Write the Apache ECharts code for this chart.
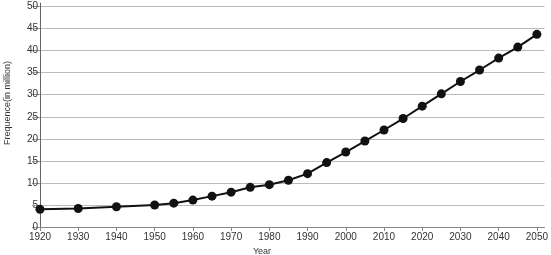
<!DOCTYPE html>
<html>
<head>
<meta charset="utf-8">
<script src="https://cdn.jsdelivr.net/npm/echarts@6/dist/echarts.min.js"></script>
<style>
  html, body { margin: 0; padding: 0; background: #fff; }
  #chart { width: 551px; height: 255px; }
</style>
</head>
<body>
<div id="chart"></div>
<script>
// years and values
var years = [1920, 1930, 1940, 1950, 1955, 1960, 1965, 1970, 1975, 1980, 1985, 1990,
             1995, 2000, 2005, 2010, 2015, 2020, 2025, 2030, 2035, 2040, 2045, 2050];
var frequence = [4.0, 4.2, 4.6, 5.0, 5.4, 6.1, 7.0, 7.9, 9.0, 9.6, 10.6, 12.1,
                 14.6, 17.0, 19.5, 22.0, 24.6, 27.4, 30.2, 33.0, 35.6, 38.3, 40.8, 43.7];
var xTicks = [1920, 1930, 1940, 1950, 1960, 1970, 1980, 1990, 2000, 2010, 2020, 2030, 2040, 2050];
var yTicks = [0, 5, 10, 15, 20, 25, 30, 35, 40, 45, 50];

var chart = echarts.init(document.getElementById("chart"));

var labelFont = {
  color: "#333",
  fontFamily: "Liberation Sans",
  fontSize: 10
};

var option = {
  backgroundColor: "#fff",
  animation: false,
  grid: {
    left: 40,
    right: 3,
    top: 3,
    bottom: 28
  },
  xAxis: {
    type: "value",
    min: 1920,
    max: 2052,
    axisLine: { lineStyle: { color: "#888", width: 1 } },
    axisTick: { length: 4, customValues: xTicks, lineStyle: { color: "#888" } },
    axisLabel: Object.assign({
      margin: 5,
      customValues: xTicks,
      formatter: function (v) { return String(v); }
    }, labelFont),
    splitLine: { show: false }
  },
  yAxis: {
    type: "value",
    min: 0,
    max: 50.8,
    axisLine: { show: true, lineStyle: { color: "#666", width: 1 } },
    axisTick: { show: true, length: 8, customValues: yTicks, lineStyle: { color: "#999" } },
    axisLabel: Object.assign({ margin: 2, customValues: yTicks }, labelFont),
    splitLine: { show: true, lineStyle: { color: "#bbb", width: 1.2 } }
  },
  graphic: [
    {
      type: "text",
      x: 3,
      y: 103,
      rotation: Math.PI / 2,
      style: {
        text: "Frequence(in million)",
        fill: "#333",
        font: "9px Liberation Sans",
        align: "center",
        verticalAlign: "top"
      }
    },
    {
      type: "text",
      x: 262,
      y: 247,
      style: {
        text: "Year",
        fill: "#333",
        font: "9px Liberation Sans",
        align: "center",
        verticalAlign: "top"
      }
    }
  ],
  series: [
    {
      type: "line",
      data: years.map(function (y, i) { return [y, frequence[i]]; }),
      symbol: "circle",
      symbolSize: 9,
      lineStyle: { color: "#111", width: 2 },
      itemStyle: { color: "#111" }
    }
  ]
};

chart.setOption(option);
</script>
</body>
</html>
